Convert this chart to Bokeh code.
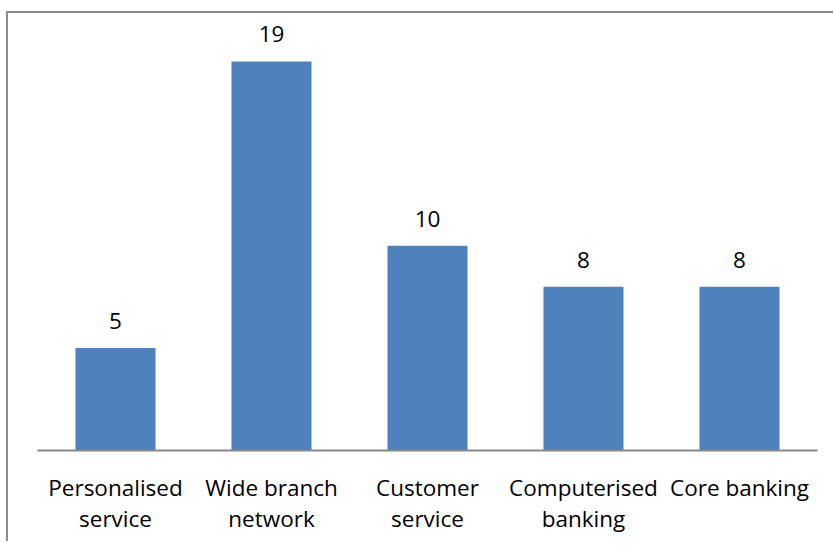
from bokeh.plotting import figure
from bokeh.models import ColumnDataSource, Range1d, FactorRange, LabelSet
from bokeh.core.properties import value
from bokeh.embed import file_html
from bokeh.resources import INLINE

categories = ["Personalised\nservice", "Wide branch\nnetwork", "Customer\nservice", "Computerised\nbanking", "Core banking"]
values = [5, 19, 10, 8, 8]
value_labels = ["5", "19", "10", "8", "8"]

src = ColumnDataSource(data=dict(cat=categories, val=values, lab=value_labels))

FONT = "Open Sans"

p = figure(width=827, height=530, x_range=FactorRange(*categories, range_padding=0),
           y_range=Range1d(0, 21), output_backend="svg", toolbar_location=None,
           min_border_left=29, min_border_right=18, min_border_top=7, min_border_bottom=93)
p.vbar(x="cat", top="val", width=0.513, source=src, color="#4F81BD", line_color=None)

labels = LabelSet(x="cat", y="val", text="lab", source=src, text_align="center",
                  text_baseline="bottom", y_offset=19, text_font=value(FONT),
                  text_font_size="22.5px", text_color="#000000")
p.add_layout(labels)

p.yaxis.visible = False
p.grid.visible = False
p.outline_line_color = None
p.xaxis.axis_line_color = "#888888"
p.xaxis.axis_line_width = 2
p.xaxis.major_tick_line_color = None
p.xaxis.minor_tick_line_color = None
p.xaxis.major_label_text_font = FONT
p.xaxis.major_label_text_font_size = "22.5px"
p.xaxis.major_label_text_color = "#000000"
p.xaxis.major_label_standoff = 15
p.xaxis.major_label_text_line_height = 1.0
p.styles = {"border-left": "2px solid #8c8c8c", "border-top": "2px solid #8c8c8c",
            "margin-left": "6px", "margin-top": "11px"}

open("out.html", "w").write(file_html(p, INLINE))
